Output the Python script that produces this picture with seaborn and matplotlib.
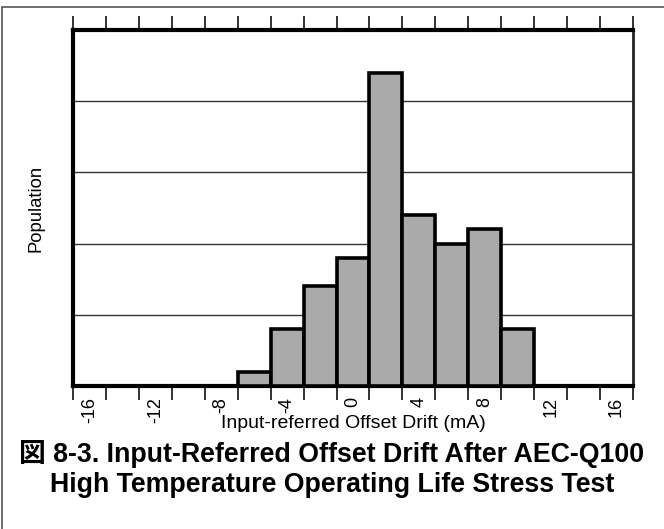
import matplotlib
matplotlib.use("Agg")
import matplotlib.pyplot as plt
import matplotlib.patches as mpatches
import seaborn as sns

# Histogram data: bin centres (mA) and device counts per 2 mA bin
bin_centers = [-6, -4, -2, 0, 2, 4, 6, 8, 10]
counts = [1, 4, 7, 9, 22, 12, 10, 11, 4]
bin_edges = [-7, -5, -3, -1, 1, 3, 5, 7, 9, 11]
tick_labels = [-16, -12, -8, -4, 0, 4, 8, 12, 16]
edge_ticks = list(range(-17, 18, 2))

sns.set_theme(style="white")
plt.rcParams["font.family"] = ["Liberation Sans", "Noto Sans CJK JP", "DejaVu Sans"]
plt.rcParams["text.color"] = "black"
plt.rcParams["axes.labelcolor"] = "black"
plt.rcParams["xtick.color"] = "black"
plt.rcParams["xtick.labelcolor"] = "black"

W, H = 664, 529
fig = plt.figure(figsize=(W / 100, H / 100), dpi=100)
ax = fig.add_axes([73 / W, 1 - 386 / H, 560 / W, 356 / H])

sns.histplot(x=bin_centers, weights=counts, bins=bin_edges, ax=ax,
             color="#AAAAAA", edgecolor="black", linewidth=2.6, alpha=1,
             zorder=3)

ax.set_xlim(-17, 17)
ax.set_ylim(0, 25)

# horizontal grid
ax.set_yticks([5, 10, 15, 20])
ax.set_yticklabels([])
ax.tick_params(axis="y", length=0)
ax.grid(axis="y", color="#333333", linewidth=1.0, zorder=1)
ax.grid(axis="x", visible=False)

# labelled ticks at even values, tick marks at bin edges
ax.set_xticks(tick_labels)
ax.set_xticklabels([str(v) for v in tick_labels], rotation=90, fontsize=13,
                   va="top", ha="center", color="black")
ax.set_xticks(edge_ticks, minor=True)
ax.tick_params(axis="x", which="major", length=0, pad=8, top=False)
ax.tick_params(axis="x", which="minor", length=10, width=1.3, color="#222222",
               direction="out", top=True, bottom=True)

for side in ["left", "bottom", "top"]:
    ax.spines[side].set_linewidth(3.0)
    ax.spines[side].set_color("black")
ax.spines["right"].set_linewidth(2.0)
ax.spines["right"].set_color("#222222")

ax.set_ylabel("Population", fontsize=13.3, labelpad=17, color="black")
ax.set_xlabel("Input-referred Offset Drift (mA)", fontsize=14, color="black")
ax.xaxis.set_label_coords(0.5, (386 - 415) / 356)

fig.text(0.5, 1 - 462 / H, "図 8-3. Input-Referred Offset Drift After AEC-Q100",
         ha="center", va="baseline", fontsize=19.3, fontweight="bold",
         color="black")
fig.text(0.5, 1 - 492 / H, "High Temperature Operating Life Stress Test",
         ha="center", va="baseline", fontsize=19.3, fontweight="bold",
         color="black")

# outer frame
fig.patches.append(mpatches.Rectangle((1.5 / W, -0.1), 1.2, 1 - 7 / H + 0.1,
                                      transform=fig.transFigure, fill=False,
                                      edgecolor="#555555", linewidth=1.2))

fig.savefig("out.png", dpi=100)
